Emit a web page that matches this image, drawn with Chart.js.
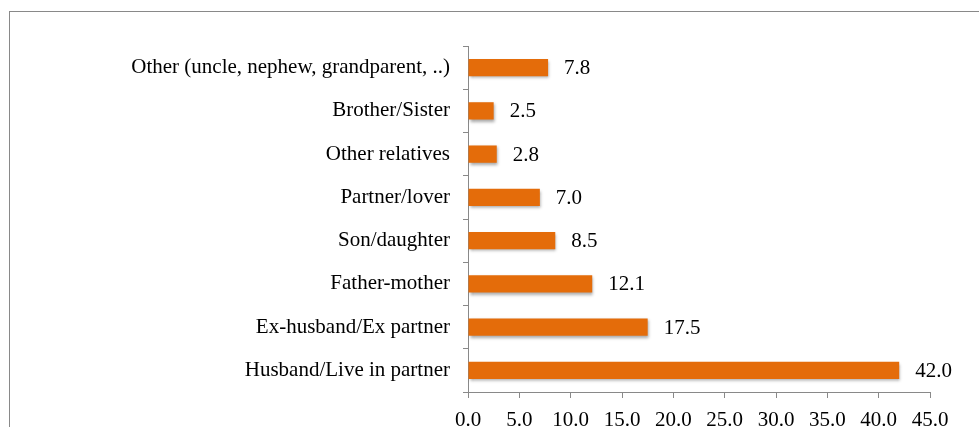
<!DOCTYPE html>
<html>
<head>
<meta charset="utf-8">
<script src="https://cdn.jsdelivr.net/npm/chart.js@4.4.1/dist/chart.umd.min.js"></script>
<style>
  html, body { margin: 0; padding: 0; background: #fff; }
  #wrap { position: relative; width: 979px; height: 427px; }
</style>
</head>
<body>
<div id="wrap"><canvas id="chart" width="979" height="427"></canvas></div>
<script>
// Perpetrator relationship shares (%), top to bottom as drawn
const categories = [
  "Other (uncle, nephew, grandparent, ..)",
  "Brother/Sister",
  "Other relatives",
  "Partner/lover",
  "Son/daughter",
  "Father-mother",
  "Ex-husband/Ex partner",
  "Husband/Live in partner",
];
const values = [7.8, 2.5, 2.8, 7.0, 8.5, 12.1, 17.5, 42.0];
const xMin = 0, xMax = 45, xStep = 5;

const FONT = "'Liberation Serif', 'Times New Roman', serif";
const AXIS = "#898989";
const BAR = "#E46C0A";

// outer frame (runs off the right and bottom edges like the source)
const framePlugin = {
  id: "frame",
  beforeDraw(chart) {
    const ctx = chart.ctx;
    ctx.save();
    ctx.strokeStyle = AXIS;
    ctx.lineWidth = 1;
    ctx.strokeRect(9.5, 11.5, 1200, 600);
    ctx.restore();
  },
};

// soft drop shadow under the bars
const shadowPlugin = {
  id: "barShadow",
  beforeDatasetDraw(chart) {
    const ctx = chart.ctx;
    ctx.save();
    ctx.shadowColor = "rgba(0,0,0,0.35)";
    ctx.shadowBlur = 3;
    ctx.shadowOffsetX = 1;
    ctx.shadowOffsetY = 2;
  },
  afterDatasetDraw(chart) {
    chart.ctx.restore();
  },
};

// value labels at the end of each bar
const valueLabels = {
  id: "valueLabels",
  afterDatasetsDraw(chart) {
    const ctx = chart.ctx;
    const meta = chart.getDatasetMeta(0);
    ctx.save();
    ctx.font = "21px " + FONT;
    ctx.fillStyle = "#000";
    ctx.textAlign = "left";
    ctx.textBaseline = "middle";
    meta.data.forEach((bar, i) => {
      ctx.fillText(values[i].toFixed(1), bar.x + 16, bar.y + 1);
    });
    ctx.restore();
  },
};

new Chart(document.getElementById("chart"), {
  type: "bar",
  data: {
    labels: categories,
    datasets: [{
      data: values,
      backgroundColor: BAR,
      borderWidth: 0,
      categoryPercentage: 1,
      barPercentage: 0.4,
    }],
  },
  options: {
    indexAxis: "y",
    responsive: false,
    animation: false,
    events: [],
    layout: { padding: { left: 0, right: 49, top: 46, bottom: 0 } },
    plugins: { legend: { display: false }, tooltip: { enabled: false } },
    scales: {
      x: {
        min: xMin,
        max: xMax,
        afterFit: (s) => { s.height = 35; },
        grid: { drawOnChartArea: false, drawTicks: true, tickLength: 6, color: AXIS },
        border: { display: true, color: AXIS, width: 1 },
        ticks: {
          stepSize: xStep,
          padding: 10,
          color: "#000",
          font: { family: FONT, size: 21 },
          callback: (v) => Number(v).toFixed(1),
        },
      },
      y: {
        afterFit: (s) => { s.width = 468; },
        grid: { drawOnChartArea: false, drawTicks: true, tickLength: 5, color: AXIS, offset: true },
        border: { display: true, color: AXIS, width: 1 },
        ticks: { padding: 13, color: "#000", font: { family: FONT, size: 21 } },
      },
    },
  },
  plugins: [framePlugin, shadowPlugin, valueLabels],
});
</script>
</body>
</html>
